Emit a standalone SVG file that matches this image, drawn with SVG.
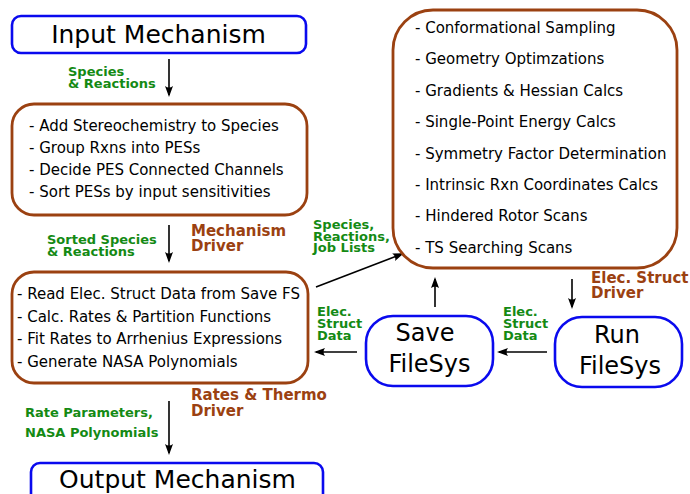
<svg xmlns="http://www.w3.org/2000/svg" width="690" height="494" viewBox="0 0 690 494">
<defs>
<marker id="ah" markerUnits="userSpaceOnUse" markerWidth="14" markerHeight="10" viewBox="-11 -5 14 10" refX="0" refY="0" orient="auto">
<path d="M2,0 L-9,-4 Q-6,0 -9,4 Z" fill="#000"/>
</marker>
<style>
.blue{fill:#fff;stroke:#0a0aee;stroke-width:2.6}
.brown{fill:#fff;stroke:#9b4111;stroke-width:2.8}
.big{font-family:"DejaVu Sans",sans-serif;font-size:25px;fill:#000}
.fs{font-family:"DejaVu Sans",sans-serif;font-size:24px;fill:#000;text-anchor:middle}
.item{font-family:"DejaVu Sans",sans-serif;font-size:15px;fill:#000}
.gr{font-family:"DejaVu Sans",sans-serif;font-size:13px;font-weight:bold;fill:#148a14}
.br{font-family:"DejaVu Sans",sans-serif;font-size:15px;font-weight:bold;fill:#9b4111}
.conn{stroke:#000;stroke-width:1.6;fill:none;marker-end:url(#ah)}
</style>
</defs>
<rect width="690" height="494" fill="#fff"/>

<g id="connectors">
<line class="conn" x1="169" y1="59" x2="169" y2="95"/>
<line class="conn" x1="169" y1="225" x2="169" y2="261"/>
<line class="conn" x1="169" y1="401" x2="169" y2="453"/>
<line class="conn" x1="316" y1="287" x2="402" y2="254"/>
<line class="conn" x1="435" y1="307" x2="435" y2="279"/>
<line class="conn" x1="572" y1="279" x2="572" y2="307"/>
<line class="conn" x1="547" y1="352" x2="499" y2="352"/>
<line class="conn" x1="357" y1="352" x2="316" y2="352"/>
</g>

<g id="labels">
<text class="gr" x="68" y="76">Species</text>
<text class="gr" x="68" y="88">&amp; Reactions</text>
<text class="gr" x="47" y="244">Sorted Species</text>
<text class="gr" x="47" y="256">&amp; Reactions</text>
<text class="br" x="191" y="236">Mechanism</text>
<text class="br" x="191" y="251">Driver</text>
<text class="br" x="191" y="400">Rates &amp; Thermo</text>
<text class="br" x="191" y="416">Driver</text>
<text class="gr" x="25" y="417">Rate Parameters,</text>
<text class="gr" x="25" y="437">NASA Polynomials</text>
<text class="gr" x="313" y="229">Species,</text>
<text class="gr" x="313" y="241">Reactions,</text>
<text class="gr" x="313" y="252">Job Lists</text>
<text class="br" x="591" y="283">Elec. Struct</text>
<text class="br" x="591" y="298">Driver</text>
<text class="gr" x="503" y="316">Elec.</text>
<text class="gr" x="503" y="328">Struct</text>
<text class="gr" x="503" y="340">Data</text>
<text class="gr" x="317" y="316">Elec.</text>
<text class="gr" x="317" y="328">Struct</text>
<text class="gr" x="317" y="340">Data</text>
</g>

<g id="input-mechanism">
<rect class="blue" x="12" y="16" width="294" height="37" rx="9"/>
<text class="big" x="158.5" y="43" text-anchor="middle">Input Mechanism</text>
</g>

<g id="mechanism-driver">
<rect class="brown" x="12" y="104" width="295" height="111" rx="22"/>
<text class="item" x="29" y="131">- Add Stereochemistry to Species</text>
<text class="item" x="29" y="153">- Group Rxns into PESs</text>
<text class="item" x="29" y="175">- Decide PES Connected Channels</text>
<text class="item" x="29" y="197">- Sort PESs by input sensitivities</text>
</g>

<g id="rates-thermo-driver">
<rect class="brown" x="12" y="272" width="296" height="111" rx="22"/>
<text class="item" x="17" y="299">- Read Elec. Struct Data from Save FS</text>
<text class="item" x="17" y="322">- Calc. Rates &amp; Partition Functions</text>
<text class="item" x="17" y="344">- Fit Rates to Arrhenius Expressions</text>
<text class="item" x="17" y="367">- Generate NASA Polynomials</text>
</g>

<g id="output-mechanism">
<rect class="blue" x="31" y="463" width="292" height="45" rx="9"/>
<text class="big" x="177.5" y="488" text-anchor="middle">Output Mechanism</text>
</g>

<g id="elec-struct-driver">
<rect class="brown" x="393" y="10" width="284" height="258" rx="40"/>
<text class="item" x="415" y="33">- Conformational Sampling</text>
<text class="item" x="415" y="64.4">- Geometry Optimzations</text>
<text class="item" x="415" y="95.8">- Gradients &amp; Hessian Calcs</text>
<text class="item" x="415" y="127.2">- Single-Point Energy Calcs</text>
<text class="item" x="415" y="158.6">- Symmetry Factor Determination</text>
<text class="item" x="415" y="190">- Intrinsic Rxn Coordinates Calcs</text>
<text class="item" x="415" y="221.4">- Hindered Rotor Scans</text>
<text class="item" x="415" y="252.8">- TS Searching Scans</text>
</g>

<g id="save-filesys">
<rect class="blue" x="366" y="316" width="127" height="70" rx="27"/>
<text class="fs" x="425" y="341">Save</text>
<text class="fs" x="429.5" y="372">FileSys</text>
</g>

<g id="run-filesys">
<rect class="blue" x="555" y="317" width="127" height="70" rx="27"/>
<text class="fs" x="617" y="343">Run</text>
<text class="fs" x="620" y="374">FileSys</text>
</g>
</svg>
